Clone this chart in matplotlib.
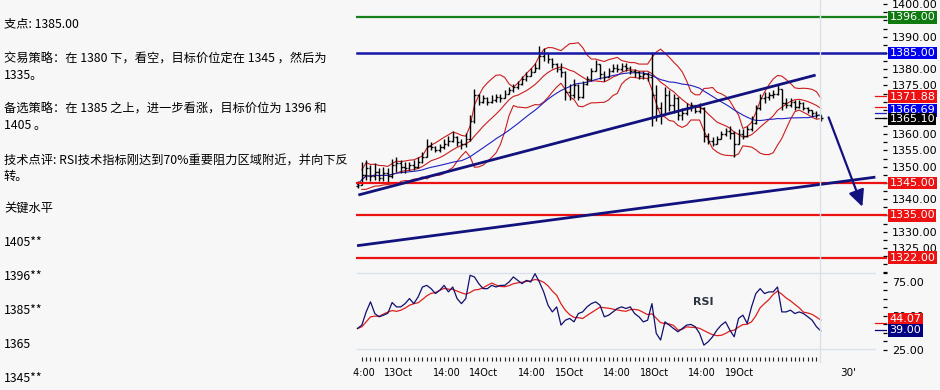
import numpy as np
import pandas as pd
import matplotlib
matplotlib.use("Agg")
import matplotlib.pyplot as plt
import matplotlib.transforms as mtransforms
from matplotlib.ticker import FormatStrFormatter, FuncFormatter

plt.rcParams['font.family'] = ['Noto Sans CJK SC', 'DejaVu Sans']

# ---------------- data (30' bars) ----------------
close = [1344.5, 1347.5, 1349.5, 1347.0, 1348.5, 1346.5, 1348.0, 1347.0, 1350.5, 1351.0,
         1350.0, 1349.5, 1350.5, 1350.0, 1351.5, 1353.0, 1356.5, 1356.0, 1355.0, 1356.0,
         1357.0, 1358.0, 1359.0, 1357.5, 1357.0, 1358.5, 1364.0, 1372.0, 1370.0, 1371.0,
         1370.0, 1370.5, 1371.5, 1371.0, 1372.5, 1373.5, 1374.5, 1375.5, 1377.0, 1378.0,
         1379.0, 1380.5, 1384.0, 1385.0, 1383.0, 1381.5, 1380.0, 1379.0, 1373.0, 1372.0,
         1375.0, 1371.5, 1375.5, 1377.0, 1379.5, 1381.5, 1378.5, 1377.5, 1379.5, 1380.5,
         1380.0, 1381.0, 1380.5, 1379.5, 1379.0, 1378.0, 1378.5, 1377.5, 1372.0, 1368.0,
         1366.0, 1372.0, 1369.0, 1371.0, 1366.0, 1366.5, 1368.0, 1369.0, 1367.0, 1368.0,
         1359.5, 1358.0, 1357.0, 1358.5, 1360.0, 1361.0, 1360.5, 1357.0, 1360.0, 1359.5,
         1361.5, 1363.5, 1368.0, 1371.0, 1371.5, 1372.0, 1372.5, 1374.0, 1369.5, 1369.0,
         1370.0, 1368.5, 1369.5, 1368.0, 1367.5, 1366.5, 1366.0, 1365.1]
high = [1345.5, 1351.5, 1352.0, 1350.5, 1351.0, 1349.5, 1350.0, 1349.5, 1352.5, 1353.0,
        1352.0, 1351.5, 1351.5, 1352.0, 1353.0, 1354.5, 1358.5, 1357.5, 1356.5, 1357.0,
        1358.5, 1359.5, 1361.0, 1359.5, 1358.5, 1360.5, 1366.0, 1374.0, 1372.5, 1372.0,
        1371.5, 1372.0, 1372.5, 1372.5, 1373.5, 1374.5, 1375.5, 1376.5, 1378.0, 1379.0,
        1380.5, 1382.0, 1387.2, 1386.5, 1385.0, 1383.5, 1382.0, 1382.0, 1379.5, 1375.5,
        1377.0, 1375.5, 1376.5, 1378.0, 1380.5, 1382.8, 1381.5, 1379.5, 1380.5, 1381.5,
        1381.5, 1381.8, 1381.8, 1381.0, 1380.0, 1379.5, 1379.5, 1379.0, 1385.2, 1375.0,
        1370.0, 1374.5, 1373.5, 1372.5, 1371.5, 1368.0, 1369.5, 1370.0, 1369.0, 1369.5,
        1368.5, 1360.5, 1359.0, 1359.5, 1361.0, 1362.0, 1362.5, 1361.0, 1361.5, 1361.5,
        1362.5, 1365.5, 1369.0, 1372.5, 1373.0, 1373.0, 1373.5, 1375.2, 1374.0, 1371.0,
        1371.0, 1370.5, 1370.5, 1370.0, 1368.5, 1367.5, 1367.0, 1366.0]
low = [1343.5, 1344.5, 1346.0, 1345.5, 1346.0, 1345.5, 1345.5, 1345.0, 1346.5, 1348.5,
       1348.0, 1348.0, 1349.0, 1349.0, 1349.5, 1351.0, 1353.0, 1355.0, 1354.5, 1354.5,
       1355.5, 1356.5, 1357.5, 1356.5, 1355.5, 1356.0, 1358.0, 1363.5, 1369.0, 1369.5,
       1369.0, 1369.5, 1370.0, 1370.0, 1371.0, 1372.5, 1373.0, 1374.0, 1375.0, 1376.5,
       1378.0, 1379.0, 1380.0, 1382.5, 1382.0, 1380.5, 1379.0, 1377.5, 1370.5, 1370.5,
       1371.0, 1370.5, 1371.0, 1375.0, 1376.5, 1379.5, 1377.0, 1376.5, 1377.5, 1379.0,
       1379.0, 1379.5, 1379.5, 1378.5, 1377.5, 1377.0, 1377.0, 1376.5, 1362.5, 1364.0,
       1363.0, 1366.0, 1367.0, 1366.5, 1364.5, 1364.5, 1366.0, 1367.0, 1366.5, 1366.5,
       1357.5, 1357.0, 1356.5, 1357.0, 1358.5, 1359.5, 1358.5, 1353.0, 1357.0, 1358.5,
       1359.0, 1361.0, 1363.0, 1367.5, 1369.5, 1370.5, 1371.0, 1372.0, 1367.5, 1368.0,
       1368.5, 1367.5, 1368.0, 1367.5, 1366.5, 1365.5, 1365.0, 1364.0]
rsi = [40.8, 43.3, 53.0, 60.4, 51.8, 49.4, 50.6, 52.0, 59.9, 56.7,
       56.7, 59.1, 62.8, 59.1, 64.0, 71.3, 72.5, 70.1, 66.5, 68.9,
       72.5, 67.7, 71.3, 62.8, 59.1, 62.8, 79.9, 78.7, 73.8, 70.1,
       70.1, 72.5, 71.3, 72.5, 72.5, 75.0, 78.7, 76.2, 73.8, 76.2,
       75.0, 81.1, 75.0, 67.7, 57.9, 53.0, 56.7, 43.3, 46.9, 48.2,
       45.7, 51.8, 53.0, 56.7, 59.1, 60.4, 57.9, 49.4, 50.6, 53.0,
       55.5, 56.7, 55.5, 56.7, 51.8, 49.4, 45.7, 46.9, 59.1, 37.2,
       32.3, 45.7, 43.3, 40.8, 38.4, 40.8, 43.3, 43.8, 42.1, 37.2,
       28.6, 31.1, 34.7, 39.6, 43.3, 45.7, 39.6, 34.7, 48.2, 50.6,
       44.5, 56.7, 66.5, 70.1, 66.5, 67.7, 67.7, 71.3, 53.0, 53.0,
       54.3, 51.8, 53.0, 51.8, 49.4, 46.9, 42.1, 39.0]

time_labels = ['14:00', '14:00', '14:00', '14:00', '14:00']
time_pos = [-2.2, 17.4, 37.1, 56.7, 76.3]
date_labels = ['13Oct', '14Oct', '15Oct', '18Oct', '19Oct']
date_pos = [6.0, 25.75, 45.6, 65.2, 84.8]

levels = [1396.0, 1385.0, 1345.0, 1335.0, 1322.0]
level_texts = ['1396.00', '1385.00', '1345.00', '1335.00', '1322.00']
steep_x, steep_y = [0.2, 105.8], [1341.3, 1378.2]
shallow_x, shallow_y = [-0.1, 119.6], [1325.7, 1346.8]
arrow_from, arrow_to = (108.8, 1365.2), (116.6, 1337.7)

cur_texts = ['1371.88', '1366.69', '1365.10']
cur_pos = [1371.6, 1367.4, 1364.7]
stub_vals = [1371.88, 1368.4, 1366.6, 1365.1]
rsi_texts = ['44.07', '39.00']
rsi_pos = [47.6, 39.5]
rsi_stub_vals = [45.0, 39.6]
covered_ticks = [1395, 1385, 1370, 1365, 1345, 1335]

left_lines = [
    ('支点: 1385.00', 24),
    ('交易策略：在 1380 下，看空，目标价位定在 1345 ，然后为', 59),
    ('1335。', 75),
    ('备选策略：在 1385 之上，进一步看涨，目标价位为 1396 和', 109),
    ('1405 。', 125),
    ('技术点评: RSI技术指标刚达到70%重要阻力区域附近，并向下反', 161),
    ('转。', 176),
    ('关键水平', 208),
    ('1405**', 243),
    ('1396**', 277),
    ('1385**', 310),
    ('1365', 344),
    ('1345**', 378),
]

# ---------------- colours ----------------
BG = '#f7f7f7'
RED = '#ee1111'
NAVY = '#12127e'
GREEN_LINE = '#17801a'
GREEN_BOX = '#0f7a10'
BLUE_LINE = '#1717a6'
BLUE_BOX = '#0000ee'
BB_RED = '#cc1c1c'
MA_BLUE = '#2020c0'
LIGHT = '#d9e1ea'

W, H = 940, 390


def rect(x0, y0, x1, y1):
    return [x0 / W, 1 - y1 / H, (x1 - x0) / W, (y1 - y0) / H]


fig = plt.figure(figsize=(W / 100, H / 100), dpi=100)
fig.patch.set_facecolor(BG)

# ---------------- left text ----------------
for txt, yy in left_lines:
    fig.text(4 / W, 1 - yy / H, txt, fontsize=8.8, va='center', ha='left', color='black')

# ---------------- price panel ----------------
X0, X1 = 356, 887
PX = 4.33
xlim = ((X0 - 357.5) / PX, (X1 - 357.5) / PX)

ax1 = fig.add_axes(rect(X0, 0, X1, 273))
ax1.set_facecolor('none')
ax1.set_xlim(*xlim)
ax1.set_ylim(1317.3, 1401.3)
for s in ax1.spines.values():
    s.set_visible(False)
ax1.set_xticks([])
ax1.yaxis.tick_right()
ax1.set_yticks(np.arange(1325, 1401, 5))
ax1.set_yticks(np.arange(1317.5, 1401, 2.5), minor=True)
ax1.yaxis.set_major_formatter(
    FuncFormatter(lambda v, p: '' if round(v) in covered_ticks else '%.2f' % v))
ax1.tick_params(axis='y', which='both', direction='in', length=2.9, width=0.9,
                pad=3.6, labelsize=8, colors='black')
for lbl in ax1.get_yticklabels():
    lbl.set_family('DejaVu Sans')

idx = np.arange(len(close))
c = np.array(close)
o = np.r_[c[0] - 0.5, c[:-1]]
s_close = pd.Series(close)
mid = s_close.rolling(10, min_periods=2).mean()
sd = s_close.rolling(10, min_periods=2).std(ddof=0)
upper = mid + 2 * sd
lower = mid - 2 * sd
ma_long = s_close.rolling(25, min_periods=1).mean()

ax1.plot(idx, upper, color=BB_RED, lw=0.8, zorder=2)
ax1.plot(idx, lower, color=BB_RED, lw=0.8, zorder=2)
ax1.plot(idx, mid, color=BB_RED, lw=0.8, zorder=2)
ax1.plot(idx, ma_long, color=MA_BLUE, lw=0.8, zorder=2)

ax1.vlines(idx, low, high, color='black', lw=1.0, zorder=3)
ax1.hlines(o, idx - 0.4, idx, color='black', lw=1.0, zorder=3)
ax1.hlines(c, idx, idx + 0.4, color='black', lw=1.0, zorder=3)

line_cols = [GREEN_LINE, BLUE_LINE, RED, RED, RED]
box_cols = [GREEN_BOX, BLUE_BOX, RED, RED, RED]
for lv, col in zip(levels, line_cols):
    ax1.axhline(lv, xmin=0.002, xmax=1.0, color=col, lw=1.6 if col != BLUE_LINE else 1.8, zorder=4)

ax1.plot(steep_x, steep_y, color=NAVY, lw=2.0, zorder=5, solid_capstyle='butt')
ax1.plot(shallow_x, shallow_y, color=NAVY, lw=2.0, zorder=5, solid_capstyle='butt')
ax1.annotate('', xy=arrow_to, xytext=arrow_from,
             arrowprops=dict(arrowstyle='-|>,head_length=0.5,head_width=0.24',
                             mutation_scale=20, color=NAVY, lw=1.6,
                             shrinkA=0, shrinkB=0), zorder=6)

# current-value stubs
stub_cols = [RED, RED, MA_BLUE, 'black']
for v, col in zip(stub_vals, stub_cols):
    ax1.axhline(v, xmin=(875 - X0) / (X1 - X0), xmax=1.0, color=col, lw=0.9, zorder=4)

tr1 = mtransforms.blended_transform_factory(fig.transFigure, ax1.transData)


def value_label(ax, tr, y, text, fc, z):
    ax.text(889.5 / W, y, text, transform=tr, color='white', fontsize=8,
            family='DejaVu Sans', va='center', ha='left', zorder=z, clip_on=False,
            bbox=dict(boxstyle='square,pad=0.12', fc=fc, ec='none'))


for lv, t, col in zip(levels, level_texts, box_cols):
    value_label(ax1, tr1, lv, t, col, 10)
cur_cols = [RED, BLUE_BOX, 'black']
for k, (t, p, col) in enumerate(zip(cur_texts, cur_pos, cur_cols)):
    value_label(ax1, tr1, p, t, col, 10 + k)

# ---------------- RSI panel ----------------
ax2 = fig.add_axes(rect(X0, 273, X1, 350))
ax2.set_facecolor('none')
ax2.set_xlim(*xlim)
ax2.set_ylim(25, 81.6)
for s in ax2.spines.values():
    s.set_visible(False)
ax2.set_xticks([])
ax2.yaxis.tick_right()
ax2.set_yticks([25, 50, 75])
ax2.set_yticks(np.arange(25, 82, 6.25), minor=True)
ax2.yaxis.set_major_formatter(FormatStrFormatter('%.2f'))
ax2.tick_params(axis='y', which='both', direction='in', length=2.9, width=0.9,
                pad=3.6, labelsize=8, colors='black')
for lbl in ax2.get_yticklabels():
    lbl.set_family('DejaVu Sans')

xf1 = (875 - X0) / (X1 - X0)
ax2.plot([0.002, xf1], [1, 1], transform=ax2.transAxes, color=LIGHT, lw=1.0, clip_on=False)
ax2.plot([0.002, xf1], [0.015, 0.015], transform=ax2.transAxes, color=LIGHT, lw=1.0, clip_on=False)

rsi_s = pd.Series(rsi)
rsi_sig = rsi_s.rolling(6, min_periods=1).mean()
ax2.plot(idx, rsi_sig, color='#dd1f1f', lw=0.9, zorder=3)
ax2.plot(idx, rsi, color='#10106e', lw=0.9, zorder=4)
ax2.text((703 - X0) / (X1 - X0), (350 - 302) / 77, 'RSI', transform=ax2.transAxes,
         ha='center', va='center', fontsize=8, fontweight='bold', color='#2c3440',
         family='DejaVu Sans')

for v, col in zip(rsi_stub_vals, [RED, '#000080']):
    ax2.axhline(v, xmin=xf1, xmax=1.0, color=col, lw=0.9, zorder=4)
tr2 = mtransforms.blended_transform_factory(fig.transFigure, ax2.transData)
for k, (t, p, col) in enumerate(zip(rsi_texts, rsi_pos, [RED, '#000080'])):
    value_label(ax2, tr2, p, t, col, 10 + k)

# ---------------- time axis overlay ----------------
LX0 = 353
axL = fig.add_axes(rect(LX0, 0, W, H))
axL.set_facecolor('none')
axL.set_xlim((LX0 - 357.5) / PX, (W - 357.5) / PX)
axL.set_ylim(H, 0)
for s in axL.spines.values():
    s.set_visible(False)
axL.spines['bottom'].set_position(('data', 361))
axL.yaxis.set_visible(False)
axL.set_xticks([])
axL.set_xticks(np.arange(1, len(close) - 1), minor=True)
axL.tick_params(axis='x', which='minor', direction='in', length=2.9, width=0.8, color='#222222')
axL.axvline(len(close) - 1.2, ymin=(H - 362) / H, ymax=1.0, color=LIGHT, lw=1.0, zorder=1)

for t, p in zip(time_labels, time_pos):
    axL.text(p, 373, t, fontsize=7, family='DejaVu Sans', ha='left', va='center',
             color='black', clip_on=True)
for t, p in zip(date_labels, date_pos):
    axL.text(p, 373, t, fontsize=7, family='DejaVu Sans', ha='left', va='center',
             color='black', clip_on=True)
fig.text(840 / W, 1 - 373 / H, "30'", fontsize=7.5, family='DejaVu Sans',
         ha='left', va='center', color='black')

fig.savefig('out.png', dpi=100, facecolor=BG)
